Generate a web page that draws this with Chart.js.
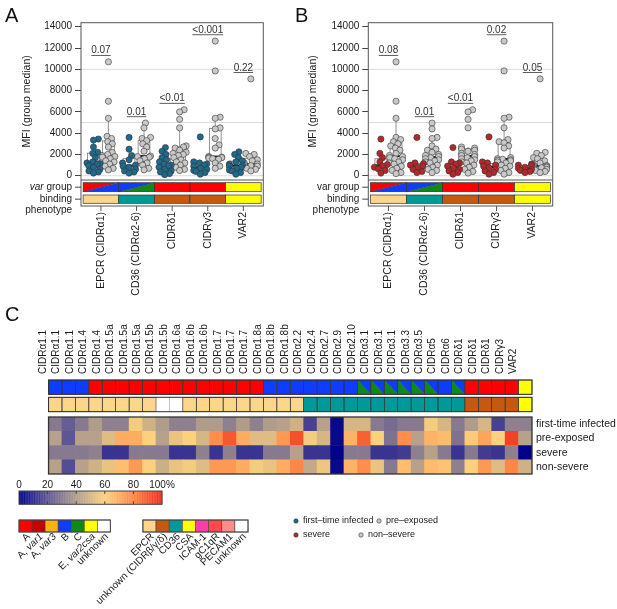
<!DOCTYPE html>
<html>
<head>
<meta charset="utf-8">
<script src="https://cdn.jsdelivr.net/npm/chart.js@4.4.1/dist/chart.umd.min.js"></script>
<style>
  body { margin: 0; background: #fff; }
  #wrap { position: relative; width: 617px; height: 609px; overflow: hidden; font-family: 'Liberation Sans', Arial, sans-serif; }
  canvas { position: absolute; }
  .tag { position: absolute; font-size: 20px; line-height: 20px; color: #111; }
</style>
</head>
<body>
<div id="wrap">
  <canvas id="panelA" width="300" height="300" style="left:0;top:0"></canvas>
  <canvas id="panelB" width="310" height="300" style="left:290px;top:0"></canvas>
  <canvas id="panelC" width="617" height="309" style="left:0;top:300px"></canvas>
  <div class="tag" style="left:5px;top:5px">A</div>
  <div class="tag" style="left:295px;top:5px">B</div>
  <div class="tag" style="left:5px;top:304px">C</div>
</div>
<script>
const FONT = "'Liberation Sans', Arial, sans-serif";
Chart.defaults.font.family = FONT;
Chart.defaults.color = '#1a1a1a';
Chart.defaults.animation = false;

// --- panel A / B data (MFI per patient) ---
const categories = ['EPCR (CIDRα1)', 'CD36 (CIDRα2-6)', 'CIDRδ1', 'CIDRγ3', 'VAR2'];
const firstTime = [
  [3450, 3350, 2700, 2200, 2100, 1700, 1300, 1200, 1150, 1100, 950, 800, 600, 450, 350, 250],
  [3600, 2500, 1900, 1500, 1200, 1000, 900, 800, 600, 450, 350, 250],
  [2650, 2300, 2000, 1700, 1500, 1300, 1100, 1000, 900, 800, 600, 450, 350, 200, 100],
  [3650, 1300, 1200, 1100, 1000, 900, 700, 600, 500, 400, 300, 150],
  [2250, 2000, 1700, 1400, 1300, 1100, 1000, 900, 800, 700, 550, 450, 300, 150]
];
const preExposed = [
  [10700, 7000, 5400, 3700, 3500, 3200, 3000, 2700, 2200, 2000, 1900, 1800, 1750, 1600, 1400, 1300, 1100, 900, 700, 550],
  [4950, 4500, 3600, 3500, 3300, 3000, 2700, 2300, 1850, 1800, 1750, 1600, 1400, 1200, 1000, 700, 550],
  [6200, 6000, 5300, 4500, 2800, 2700, 2600, 2400, 2200, 2100, 2000, 1900, 1700, 1500, 1300, 1200, 1000, 800, 600, 500],
  [12650, 9850, 5500, 5400, 4500, 4400, 3500, 2900, 2600, 1800, 1750, 1750, 1700, 1650, 1600, 1550, 1200, 900, 700],
  [9100, 2100, 2000, 1800, 1500, 1400, 1200, 1100, 1000, 950, 900, 800, 700, 600, 450]
];
const severe = [
  [3450, 2100, 1700, 1300, 1050, 900, 800, 650, 500, 250],
  [3600, 1200, 1150, 1000, 900, 800, 600, 400, 300],
  [2650, 1300, 1200, 1100, 900, 700, 600, 450, 300, 150],
  [3650, 1300, 1200, 1000, 900, 750, 600, 450, 300, 150],
  [1100, 1000, 950, 800, 700, 600, 500, 400, 300]
];
const nonSevere = [
  [10700, 7000, 5400, 3600, 3400, 3200, 3000, 2800, 2600, 2400, 2100, 1900, 1800, 1700, 1600, 1500, 1300, 1200, 1100, 900, 700, 500, 300, 200],
  [4950, 4400, 3600, 3500, 2800, 2500, 2400, 2200, 2000, 1900, 1800, 1700, 1600, 1500, 1400, 1300, 1200, 1000, 800, 600, 500, 300],
  [6200, 6000, 5300, 4500, 2700, 2600, 2500, 2400, 2300, 2100, 2000, 1900, 1800, 1700, 1600, 1500, 1400, 1300, 1200, 1000, 800, 600, 400, 250],
  [12650, 9850, 5500, 5400, 4500, 3400, 3200, 3100, 2800, 2600, 1700, 1600, 1550, 1500, 1450, 1400, 1300, 1200, 1000, 900, 700, 500, 300, 150],
  [9100, 2200, 2100, 1900, 1700, 1600, 1400, 1200, 1050, 950, 900, 900, 850, 800, 750, 700, 600, 500, 400, 300]
];
const yTicks = [0, 2000, 4000, 6000, 8000, 10000, 12000, 14000];
const refLines = [0, 5000, 10000];
const pValuesA = ['0.07', '0.01', '<0.01', '<0.001', '0.22'];
const pValuesB = ['0.08', '0.01', '<0.01', '0.02', '0.05'];
const panelVarGroup = ['A/B', 'B/C', 'A', 'A', 'E'];
const panelBinding = ['EPCR', 'CD36', 'CIDR', 'CIDR', 'CSA'];

// --- panel C data (% recognition) ---
const heatColumns = ['CIDRα1.1', 'CIDRα1.1', 'CIDRα1.1', 'CIDRα1.4', 'CIDRα1.4', 'CIDRα1.5a', 'CIDRα1.5a', 'CIDRα1.5a',
  'CIDRα1.5b', 'CIDRα1.5b', 'CIDRα1.6a', 'CIDRα1.6b', 'CIDRα1.6b', 'CIDRα1.7', 'CIDRα1.7', 'CIDRα1.7', 'CIDRα1.8a',
  'CIDRα1.8b', 'CIDRα1.8b', 'CIDRα2.2', 'CIDRα2.4', 'CIDRα2.7', 'CIDRα2.9', 'CIDRα2.10', 'CIDRα3.1', 'CIDRα3.1',
  'CIDRα3.1', 'CIDRα3.3', 'CIDRα3.5', 'CIDRα5', 'CIDRα6', 'CIDRδ1', 'CIDRδ1', 'CIDRδ1', 'CIDRγ3', 'VAR2'];
const heatVarGroup = ['B', 'B', 'B', 'A', 'A', 'A', 'A', 'A', 'A', 'A', 'A', 'A', 'A', 'A', 'A', 'A', 'B', 'B', 'B', 'B',
  'B', 'B', 'B', 'B/C', 'B/C', 'B/C', 'B/C', 'B/C', 'B/C', 'B', 'B/C', 'A', 'A', 'A', 'A', 'E'];
const heatBinding = ['EPCR', 'EPCR', 'EPCR', 'EPCR', 'EPCR', 'EPCR', 'EPCR', 'EPCR', 'unknown', 'unknown', 'EPCR', 'EPCR',
  'EPCR', 'EPCR', 'EPCR', 'EPCR', 'EPCR', 'EPCR', 'EPCR', 'CD36', 'CD36', 'CD36', 'CD36', 'CD36', 'CD36', 'CD36', 'CD36',
  'CD36', 'CD36', 'CD36', 'CD36', 'CIDR', 'CIDR', 'CIDR', 'CIDR', 'CSA'];
const heatRows = ['first-time infected', 'pre-exposed', 'severe', 'non-severe'];
const heatFirstTime = [30, 22, 30, 40, 32, 32, 58, 48, 40, 32, 32, 40, 40, 32, 40, 32, 40, 42, 48, 15, 42, 2, 50, 50, 30, 26, 30, 30, 58, 50, 30, 40, 50, 15, 32, 32];
const heatPreExposed = [42, 20, 42, 42, 52, 70, 70, 60, 42, 55, 60, 50, 78, 90, 70, 52, 52, 75, 92, 58, 50, 2, 68, 88, 60, 28, 78, 42, 68, 66, 28, 62, 72, 60, 95, 42];
const heatSevere = [30, 30, 30, 32, 12, 12, 30, 30, 30, 12, 12, 32, 12, 32, 12, 12, 30, 30, 42, 12, 12, 0, 30, 30, 12, 12, 14, 32, 42, 30, 12, 30, 14, 12, 32, 0];
const heatNonSevere = [42, 18, 42, 48, 55, 65, 75, 60, 47, 55, 58, 52, 75, 75, 70, 58, 55, 70, 80, 45, 56, 2, 68, 78, 55, 30, 65, 42, 66, 64, 32, 60, 75, 52, 80, 48];
const colourTicks = [0, 20, 40, 60, 80, 100];
const varLegendKeys = ['A', 'Avar1', 'Avar3', 'B', 'C', 'E', 'unknown'];
const varLegendLabels = [['A'], ['A, ', 'var1'], ['A, ', 'var3'], ['B'], ['C'], ['E, ', 'var2csa'], ['unknown']];
const bindingLegendKeys = ['EPCR', 'CIDR', 'CD36', 'CSA', 'ICAM1', 'gC1qR', 'PECAM1', 'unknown'];
const bindingLegendLabels = ['EPCR', 'unknown (CIDRβ/γ/δ)', 'CD36', 'CSA', 'ICAM-1', 'gC1qR', 'PECAM1', 'unknown'];
const dotLegend = [['first–time infected', 'pre–exposed'], ['severe', 'non–severe']];

// --- colours ---
const varColours = { A: '#ff0000', Avar1: '#c40000', Avar3: '#ffb30f', B: '#0f3cff', C: '#0d8a1a', E: '#ffff00', unknown: '#ffffff' };
const bindColours = { EPCR: '#fdd58b', CIDR: '#c45a12', CD36: '#00999a', CSA: '#ffff00', ICAM1: '#ff3ba8', gC1qR: '#ff4b4b', PECAM1: '#ff8c8c', unknown: '#ffffff' };
const BLUE = '#1f6a8c', RED = '#b5282a', GREY = '#c9c9c9';
const stops = [[0, [0, 0, 139]], [20, [94, 86, 148]], [40, [176, 156, 139]], [60, [252, 209, 125]], [80, [255, 134, 70]], [100, [238, 42, 27]]];

function heatColour(v) {
  for (let k = 1; k < stops.length; k++) {
    if (v <= stops[k][0]) {
      const [v0, c0] = stops[k - 1], [v1, c1] = stops[k], t = (v - v0) / (v1 - v0);
      return 'rgb(' + c0.map((c, j) => Math.round(c + (c1[j] - c) * t)).join(',') + ')';
    }
  }
  return 'rgb(238,42,27)';
}

function quantile(s, p) {
  const h = (s.length - 1) * p, lo = Math.floor(h);
  return s[lo] + (h - lo) * ((s[lo + 1] ?? s[lo]) - s[lo]);
}
function boxStats(vals) {
  const s = [...vals].sort((a, b) => a - b);
  const q1 = quantile(s, .25), med = quantile(s, .5), q3 = quantile(s, .75), iqr = q3 - q1;
  const lo = s.find(v => v >= q1 - 1.5 * iqr), hi = [...s].reverse().find(v => v <= q3 + 1.5 * iqr);
  return { q1, med, q3, lo, hi };
}

// simple beeswarm: horizontal offsets (px) so dots don't pile up
function swarm(ys, d) {
  const order = ys.map((v, i) => i).sort((a, b) => ys[a] - ys[b]);
  const placed = [], off = [];
  order.forEach(i => {
    const y = ys[i], near = placed.filter(p => Math.abs(p.y - y) < d);
    const cands = [0];
    near.forEach(p => { const dx = Math.sqrt(d * d - (p.y - y) ** 2); cands.push(p.x + dx, p.x - dx); });
    cands.sort((a, b) => Math.abs(a) - Math.abs(b));
    const x = cands.find(c => near.every(p => (p.x - c) ** 2 + (p.y - y) ** 2 >= d * d - 0.01));
    off[i] = Math.max(-6.5, Math.min(6.5, x)); placed.push({ x: off[i], y });
  });
  return off;
}

const PX_Y = 157.3 / 14780, PX_CAT = 35.6, DOT = 5, SIDE = 0.21, HALF_BOX = 0.165;

function pointsFor(groups, shift) {
  const pts = [];
  groups.forEach((vals, i) => {
    const off = swarm(vals.map(v => v * PX_Y), DOT);
    vals.forEach((v, j) => pts.push({ x: i + shift + off[j] / PX_CAT, y: v }));
  });
  return pts;
}

function line(ctx, x1, y1, x2, y2) { ctx.beginPath(); ctx.moveTo(x1, y1); ctx.lineTo(x2, y2); ctx.stroke(); }

function drawParts(ctx, parts, size, x, y, align) {
  const fonts = parts.map((p, k) => (k % 2 ? 'italic ' : '') + size + 'px ' + FONT);
  const widths = parts.map((p, k) => { ctx.font = fonts[k]; return ctx.measureText(p).width; });
  let cx = align === 'right' ? x - widths.reduce((s, w) => s + w, 0) : x;
  ctx.textAlign = 'left';
  parts.forEach((p, k) => { ctx.font = fonts[k]; ctx.fillText(p, cx, y); cx += widths[k]; });
}

// split cell: 'up' -> diagonal bottom-left to top-right, 'down' -> top-left to bottom-right
function splitCell(ctx, l, t, r, b, c1, c2, dir) {
  ctx.fillStyle = c1;
  ctx.beginPath();
  if (dir === 'up') { ctx.moveTo(l, t); ctx.lineTo(r, t); ctx.lineTo(l, b); }
  else { ctx.moveTo(l, t); ctx.lineTo(r, t); ctx.lineTo(r, b); }
  ctx.closePath(); ctx.fill();
  ctx.fillStyle = c2;
  ctx.beginPath();
  if (dir === 'up') { ctx.moveTo(r, t); ctx.lineTo(r, b); ctx.lineTo(l, b); }
  else { ctx.moveTo(l, t); ctx.lineTo(l, b); ctx.lineTo(r, b); }
  ctx.closePath(); ctx.fill();
  ctx.strokeStyle = '#333'; ctx.lineWidth = 0.5;
  if (dir === 'up') line(ctx, l, b, r, t); else line(ctx, l, t, r, b);
}

function fillCell(ctx, codes, l, t, r, b, dir) {
  const parts = codes.split('/');
  if (parts.length === 2) splitCell(ctx, l, t, r, b, varColours[parts[0]], varColours[parts[1]], dir);
  else { ctx.fillStyle = varColours[parts[0]]; ctx.fillRect(l, t, r - l, b - t); }
}

const panelDecor = {
  id: 'panelDecor',
  beforeDatasetsDraw(chart, args, o) {
    const { ctx, chartArea: a, scales: { x, y } } = chart;
    ctx.save();
    ctx.strokeStyle = '#dcdcdc'; ctx.lineWidth = 1;
    refLines.forEach(v => { const py = y.getPixelForValue(v); line(ctx, a.left, py, a.right, py); });
    o.groups.forEach(g => g.vals.forEach((vals, i) => {
      const s = boxStats(vals), cx = i + g.shift;
      const l = x.getPixelForValue(cx - HALF_BOX), r = x.getPixelForValue(cx + HALF_BOX), m = x.getPixelForValue(cx);
      const t = y.getPixelForValue(s.q3), b = y.getPixelForValue(s.q1);
      ctx.strokeStyle = '#777'; ctx.lineWidth = 0.8;
      line(ctx, m, t, m, y.getPixelForValue(s.hi));
      line(ctx, m, b, m, y.getPixelForValue(s.lo));
      ctx.fillStyle = 'rgba(255,255,255,0.6)';
      ctx.fillRect(l, t, r - l, b - t);
      ctx.strokeRect(l, t, r - l, b - t);
      ctx.strokeStyle = '#111'; ctx.lineWidth = 2;
      const my = y.getPixelForValue(s.med);
      line(ctx, l, my, r, my);
    }));
    ctx.restore();
  },
  afterDraw(chart, args, o) {
    const { ctx, chartArea: a, scales: { x, y } } = chart;
    const vTop = a.bottom + 2.7, vBot = a.bottom + 11.7, bTop = a.bottom + 15, bBot = a.bottom + 23.3, fBot = a.bottom + 26;
    ctx.save();
    categories.forEach((c, i) => {
      const l = x.getPixelForValue(i - 0.5), r = x.getPixelForValue(i + 0.5);
      fillCell(ctx, panelVarGroup[i], l, vTop, r, vBot, 'up');
      ctx.fillStyle = bindColours[panelBinding[i]];
      ctx.fillRect(l, bTop, r - l, bBot - bTop);
      ctx.strokeStyle = '#333'; ctx.lineWidth = 0.7;
      ctx.strokeRect(l, vTop, r - l, vBot - vTop);
      ctx.strokeRect(l, bTop, r - l, bBot - bTop);
    });
    // frame
    ctx.strokeStyle = '#555'; ctx.lineWidth = 1;
    ctx.strokeRect(a.left, a.top, a.right - a.left, fBot - a.top);
    line(ctx, a.left, a.bottom, a.right, a.bottom);
    // category tick marks below frame
    categories.forEach((c, i) => { const px = x.getPixelForValue(i); line(ctx, px, fBot, px, fBot + 5); });
    // strip labels
    ctx.fillStyle = '#1a1a1a'; ctx.textBaseline = 'middle';
    const vc = (vTop + vBot) / 2, bc = (bTop + bBot) / 2;
    ctx.strokeStyle = '#444';
    line(ctx, a.left - 6, vc, a.left, vc);
    line(ctx, a.left - 6, bc, a.left, bc);
    drawParts(ctx, o.italicVar ? ['', 'var', ' group'] : ['var group'], 10, a.left - 9, vc, 'right');
    drawParts(ctx, ['binding'], 10, a.left - 9, bc, 'right');
    drawParts(ctx, ['phenotype'], 10, a.left - 9, bc + 11, 'right');
    // p values
    ctx.font = '10px ' + FONT; ctx.textAlign = 'center'; ctx.textBaseline = 'alphabetic';
    ctx.fillStyle = '#333'; ctx.strokeStyle = '#333'; ctx.lineWidth = 0.8;
    o.pvals.forEach((p, i) => {
      const top = Math.max(...o.groups[0].vals[i], ...o.groups[1].vals[i]);
      const py = y.getPixelForValue(top + 600), px = x.getPixelForValue(i);
      ctx.fillText(p, px, py - 2);
      const w = ctx.measureText(p).width;
      line(ctx, px - w / 2, py, px + w / 2, py);
    });
    ctx.restore();
  }
};

function makePanel(id, leftVals, leftColour, rightVals, pvals, padLeft, axisWidth, padRight, italicVar) {
  const dot = { pointRadius: 3.1, pointBorderWidth: 0.6, pointBorderColor: '#333' };
  return new Chart(document.getElementById(id), {
    type: 'scatter',
    data: {
      datasets: [
        Object.assign({ data: pointsFor(leftVals, -SIDE), pointBackgroundColor: leftColour }, dot),
        Object.assign({ data: pointsFor(rightVals, SIDE), pointBackgroundColor: GREY }, dot)
      ]
    },
    options: {
      responsive: false,
      layout: { padding: { left: padLeft, right: padRight, top: 22.7, bottom: 0 } },
      plugins: {
        legend: { display: false }, tooltip: { enabled: false },
        panelDecor: { groups: [{ vals: leftVals, shift: -SIDE }, { vals: rightVals, shift: SIDE }], pvals, italicVar }
      },
      scales: {
        x: {
          type: 'linear', min: -0.56, max: 4.56,
          afterBuildTicks: s => { s.ticks = categories.map((c, i) => ({ value: i })); },
          ticks: { callback: v => categories[v], autoSkip: false, minRotation: 90, maxRotation: 90, padding: 32, font: { size: 10.5 } },
          grid: { display: false, drawTicks: false }, border: { display: false },
          afterFit: s => { s.height = 120; }
        },
        y: {
          min: -400, max: 14380,
          afterBuildTicks: s => { s.ticks = yTicks.map(v => ({ value: v })); },
          ticks: { callback: v => String(v), font: { size: 10 }, padding: 3 },
          grid: { drawOnChartArea: false, tickLength: 6, color: '#444' }, border: { display: false },
          title: { display: true, text: 'MFI (group median)', font: { size: 10.5 }, padding: 0 },
          afterFit: s => { s.width = axisWidth; }
        }
      }
    },
    plugins: [panelDecor]
  });
}

makePanel('panelA', firstTime, BLUE, preExposed, pValuesA, 20.7, 60.3, 36.7, true);
makePanel('panelB', severe, RED, nonSevere, pValuesB, 16.7, 61.6, 47.3, false);

// --- panel C ---
const heatDecor = {
  id: 'heatDecor',
  afterDraw(chart) {
    const { ctx, chartArea: a, scales: { x } } = chart;
    const w = (a.right - a.left) / heatColumns.length;
    const vTop = a.top - 37, vBot = a.top - 22.7, bTop = a.top - 19.7, bBot = a.top - 5.3;
    ctx.save();
    heatColumns.forEach((c, i) => {
      const l = x.getPixelForValue(i) - w / 2, r = l + w;
      fillCell(ctx, heatVarGroup[i], l, vTop, r, vBot, 'down');
      ctx.fillStyle = bindColours[heatBinding[i]];
      ctx.fillRect(l, bTop, w, bBot - bTop);
    });
    ctx.lineWidth = 0.6;
    heatColumns.forEach((c, i) => {
      const l = x.getPixelForValue(i) - w / 2;
      ctx.strokeStyle = heatBinding[i] === 'unknown' ? '#bbb' : '#333';
      ctx.strokeRect(l, bTop, w, bBot - bTop);
      ctx.strokeStyle = '#333';
      ctx.strokeRect(l, vTop, w, vBot - vTop);
    });
    ctx.lineWidth = 1;
    ctx.strokeRect(a.left, vTop, a.right - a.left, vBot - vTop);
    ctx.strokeRect(a.left, bTop, a.right - a.left, bBot - bTop);
    ctx.lineWidth = 1.3;
    ctx.strokeRect(a.left, a.top, a.right - a.left, a.bottom - a.top);

    // colour key
    const cbL = 19, cbR = 162, cbT = 191, cbB = 204.3, cx = v => cbL + (cbR - cbL) * v / 100;
    for (let v = 0; v < 100; v += 0.5) { ctx.fillStyle = heatColour(v + 0.25); ctx.fillRect(cx(v), cbT, cx(v + 0.5) - cx(v) + 0.3, cbB - cbT); }
    ctx.strokeStyle = '#444'; ctx.lineWidth = 1;
    ctx.strokeRect(cbL, cbT, cbR - cbL, cbB - cbT);
    ctx.fillStyle = '#1a1a1a'; ctx.font = '10px ' + FONT; ctx.textAlign = 'center'; ctx.textBaseline = 'middle';
    colourTicks.forEach(v => {
      if (v > 0 && v < 100) { line(ctx, cx(v), cbT, cx(v), cbT + 3); line(ctx, cx(v), cbB - 3, cx(v), cbB); }
      ctx.fillText(v === 100 ? '100%' : String(v), cx(v), 185);
    });

    // var group / binding keys
    const keyT = 220, keyB = 232;
    const drawKey = (keys, labels, colours, x0, kw) => {
      keys.forEach((k, i) => {
        const l = x0 + kw * i;
        ctx.fillStyle = colours[k]; ctx.fillRect(l, keyT, kw, keyB - keyT);
        ctx.strokeStyle = '#444'; ctx.lineWidth = 0.6; ctx.strokeRect(l, keyT, kw, keyB - keyT);
        ctx.save();
        ctx.translate(l + kw / 2 + 3, keyB + 3);
        ctx.rotate(-Math.PI / 4);
        ctx.fillStyle = '#1a1a1a'; ctx.textBaseline = 'middle';
        drawParts(ctx, Array.isArray(labels[i]) ? labels[i] : [labels[i]], 10, 0, 0, 'right');
        ctx.restore();
      });
      ctx.strokeStyle = '#444'; ctx.lineWidth = 1;
      ctx.strokeRect(x0, keyT, kw * keys.length, keyB - keyT);
    };
    drawKey(varLegendKeys, varLegendLabels, varColours, 19, 13.05);
    drawKey(bindingLegendKeys, bindingLegendLabels, bindColours, 142.9, 13.14);

    // dot key
    const dotCols = [[BLUE, GREY], [RED, GREY]], dotX = [[296, 379], [296, 361]], dotY = [221, 235];
    ctx.font = '9px ' + FONT; ctx.textAlign = 'left'; ctx.textBaseline = 'middle';
    dotLegend.forEach((row, r) => row.forEach((txt, c) => {
      ctx.beginPath(); ctx.arc(dotX[r][c], dotY[r], 2.2, 0, Math.PI * 2);
      ctx.fillStyle = dotCols[r][c]; ctx.fill();
      ctx.strokeStyle = '#333'; ctx.lineWidth = 0.6; ctx.stroke();
      ctx.fillStyle = '#1a1a1a'; ctx.fillText(txt, dotX[r][c] + 7, dotY[r]);
    }));
    ctx.restore();
  }
};

const heatSeries = [heatNonSevere, heatSevere, heatPreExposed, heatFirstTime];
new Chart(document.getElementById('panelC'), {
  type: 'bar',
  data: {
    labels: heatColumns,
    datasets: heatSeries.map((vals, k) => ({
      label: heatRows[3 - k],
      data: vals.map(() => 1),
      backgroundColor: vals.map(heatColour),
      borderWidth: 0, categoryPercentage: 1, barPercentage: 1
    }))
  },
  options: {
    responsive: false,
    layout: { padding: { left: 19, right: 0, top: 0, bottom: 135 } },
    plugins: { legend: { display: false }, tooltip: { enabled: false } },
    scales: {
      x: {
        stacked: true, position: 'top',
        grid: { display: false, drawTicks: false }, border: { display: false },
        ticks: { autoSkip: false, minRotation: 90, maxRotation: 90, padding: 43, font: { size: 10 } },
        afterFit: s => { s.height = 117; }
      },
      y: {
        stacked: true, min: 0, max: 4, position: 'right',
        grid: { display: false, drawTicks: false }, border: { display: false },
        afterBuildTicks: s => { s.ticks = heatRows.map((n, i) => ({ value: 3.5 - i })); },
        ticks: { callback: v => heatRows[Math.round(3.5 - v)], padding: 4, font: { size: 10.5 }, crossAlign: 'near' },
        afterFit: s => { s.width = 85; }
      }
    }
  },
  plugins: [heatDecor]
});
</script>
</body>
</html>
